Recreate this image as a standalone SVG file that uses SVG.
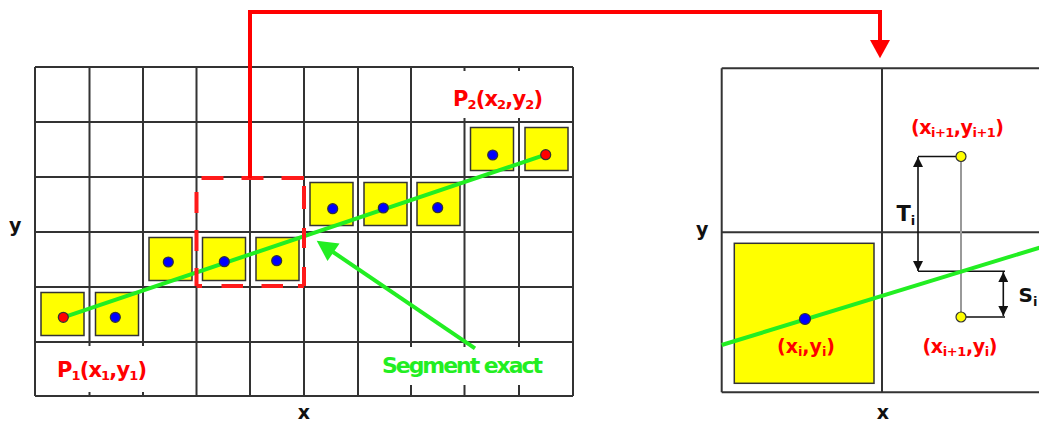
<svg xmlns="http://www.w3.org/2000/svg" width="1039" height="423" viewBox="0 0 1039 423">
<style>
.grid{stroke:#333;stroke-width:2;fill:none}
.bg{fill:#fff;stroke:none}
.cell{fill:#ffff00;stroke:#333;stroke-width:1.5}
.seg{stroke:#22ee22;stroke-width:4;fill:none;stroke-linecap:round}
.dot{fill:#0000ff;stroke:#333;stroke-width:1.2}
.end{fill:#ff0000;stroke:#333;stroke-width:1.2}
.ydot{fill:#ffff00;stroke:#333;stroke-width:1.2}
.dash{stroke:#ff1a1a;stroke-width:4;fill:none}
.conn{stroke:#ff0000;stroke-width:4;fill:none}
.blk{stroke:#111;stroke-width:1.6;fill:none}
.gray{stroke:#999;stroke-width:2;fill:none}
.lbl{font-family:"DejaVu Sans","Liberation Sans",sans-serif;font-weight:bold;fill:#ff0000}
.axis{font-family:"DejaVu Sans","Liberation Sans",sans-serif;font-weight:bold;fill:#111;font-size:19px}
.sub{font-size:13px}
</style>
<defs>
<marker id="ah" viewBox="0 0 10 10" refX="10" refY="5" markerWidth="10" markerHeight="10" markerUnits="userSpaceOnUse" orient="auto-start-reverse">
<path d="M0,0 L10,5 L0,10 z" fill="#111"/>
</marker>
</defs>
<rect x="0" y="0" width="1039" height="423" fill="#fff"/>

<g id="grid-left">
<path class="grid" d="M35,67V396M89.5,67V396M143,67V396M196.5,67V396M250,67V396M304,67V396M358,67V396M411,67V396M464.5,67V396M519,67V396M573,67V396"/>
<path class="grid" d="M35,67H573M35,122H573M35,177H573M35,232H573M35,287H573M35,342H573M35,396H573"/>
<rect class="bg" x="440" y="71" width="127" height="47"/>
<rect class="bg" x="44" y="346" width="116" height="46"/>
<rect class="bg" x="368" y="347" width="198" height="38"/>
</g>

<g id="pixels-left">
<rect class="cell" x="470.5" y="127.5" width="43" height="43"/>
<rect class="cell" x="525" y="127.5" width="43" height="43"/>
<rect class="cell" x="310" y="182.5" width="43" height="43"/>
<rect class="cell" x="364" y="182.5" width="43" height="43"/>
<rect class="cell" x="417" y="182.5" width="43" height="43"/>
<rect class="cell" x="149" y="237.5" width="43" height="43"/>
<rect class="cell" x="202.5" y="237.5" width="43" height="43"/>
<rect class="cell" x="256" y="237.5" width="43" height="43"/>
<rect class="cell" x="41" y="292.5" width="43" height="43"/>
<rect class="cell" x="95.5" y="292.5" width="43" height="43"/>
</g>

<g id="segment-left">
<line class="seg" x1="63.3" y1="317.3" x2="545.7" y2="154.7"/>
<circle class="end" cx="63.3" cy="317.3" r="5"/>
<circle class="dot" cx="115.3" cy="317.3" r="5"/>
<circle class="dot" cx="168.3" cy="262" r="5"/>
<circle class="dot" cx="224.3" cy="261.7" r="5"/>
<circle class="dot" cx="276.7" cy="260.7" r="5"/>
<circle class="dot" cx="332.7" cy="208.7" r="5"/>
<circle class="dot" cx="383.3" cy="208" r="5"/>
<circle class="dot" cx="437.7" cy="207.7" r="5"/>
<circle class="dot" cx="492.7" cy="155" r="5"/>
<circle class="end" cx="545.7" cy="154.7" r="5"/>
</g>

<g id="zoom-box">
<path class="dash" d="M201.5,178H223.5M241.5,178H263.5M281.5,178H304M304,186V209M304,228V248M304,267V286M304,286H298M283,286H261.5M243,286H221.5M202,286H196.5M196.5,286V268M196.5,251V230M196.5,213V192"/>
</g>

<g id="label-p2"><text class="lbl" x="453" y="105.5" font-size="21" textLength="90" lengthAdjust="spacing">P<tspan class="sub" dy="3">2</tspan><tspan dy="-3">(x</tspan><tspan class="sub" dy="3">2</tspan><tspan dy="-3">,y</tspan><tspan class="sub" dy="3">2</tspan><tspan dy="-3">)</tspan></text></g>
<g id="label-p1"><text class="lbl" x="57" y="377" font-size="21" textLength="90" lengthAdjust="spacing">P<tspan class="sub" dy="3">1</tspan><tspan dy="-3">(x</tspan><tspan class="sub" dy="3">1</tspan><tspan dy="-3">,y</tspan><tspan class="sub" dy="3">1</tspan><tspan dy="-3">)</tspan></text></g>
<g id="label-segment"><text class="lbl" x="382" y="373.3" font-size="22" style="fill:#22ee22" textLength="161" lengthAdjust="spacing">Segment exact</text></g>
<g id="axis-left">
<text class="axis" x="9" y="231.5">y</text>
<text class="axis" x="304" y="419" text-anchor="middle">x</text>
</g>

<g id="grid-right">
<path class="grid" d="M721.7,68.3H1045M721.7,232.3H1045M721.7,392.3H1045M721.7,68.3V392.3M882,68.3V392.3"/>
<rect class="cell" x="734.3" y="243.3" width="139.7" height="140"/>
</g>

<g id="construction-right">
<line class="gray" x1="961" y1="156.5" x2="961" y2="317"/>
<path class="blk" d="M918,156.5H956M918,271.3H1005M966,317H1005"/>
<line class="blk" x1="918" y1="157" x2="918" y2="271" marker-start="url(#ah)" marker-end="url(#ah)"/>
<line class="blk" x1="1003.3" y1="272" x2="1003.3" y2="316" marker-start="url(#ah)" marker-end="url(#ah)"/>
<line class="seg" x1="721.7" y1="345" x2="1045" y2="246" style="stroke-linecap:butt"/>
<circle class="dot" cx="805" cy="319" r="5.5"/>
<circle class="ydot" cx="961" cy="156.5" r="5"/>
<circle class="ydot" cx="961" cy="317" r="5"/>
</g>

<g id="label-xi1yi1"><text class="lbl" x="911" y="134" font-size="19" textLength="93" lengthAdjust="spacing">(x<tspan class="sub" dy="3">i+1</tspan><tspan dy="-3">,y</tspan><tspan class="sub" dy="3">i+1</tspan><tspan dy="-3">)</tspan></text></g>
<g id="label-xiyi"><text class="lbl" x="777" y="352.5" font-size="19" textLength="58" lengthAdjust="spacing">(x<tspan class="sub" dy="3">i</tspan><tspan dy="-3">,y</tspan><tspan class="sub" dy="3">i</tspan><tspan dy="-3">)</tspan></text></g>
<g id="label-xi1yi"><text class="lbl" x="922.5" y="352.5" font-size="19" textLength="75" lengthAdjust="spacing">(x<tspan class="sub" dy="3">i+1</tspan><tspan dy="-3">,y</tspan><tspan class="sub" dy="3">i</tspan><tspan dy="-3">)</tspan></text></g>
<g id="label-ti"><text class="axis" x="896.5" y="220.5" style="font-size:21px">T<tspan class="sub" dy="4">i</tspan></text></g>
<g id="label-si"><text class="axis" x="1018.5" y="301.7" style="font-size:20px">S<tspan class="sub" dy="4">i</tspan></text></g>
<g id="axis-right">
<text class="axis" x="696" y="236">y</text>
<text class="axis" x="883" y="419" text-anchor="middle">x</text>
</g>

<g id="connectors">
<path class="conn" d="M250,178V12H880V42"/>
<polygon points="870,40 890,40 880,58.3" fill="#ff0000"/>
<line class="seg" x1="475" y1="348.3" x2="333" y2="252" style="stroke-linecap:butt"/>
<polygon points="316.7,240.7 339.5,243.5 327.5,261" fill="#22ee22"/>
</g>
</svg>
